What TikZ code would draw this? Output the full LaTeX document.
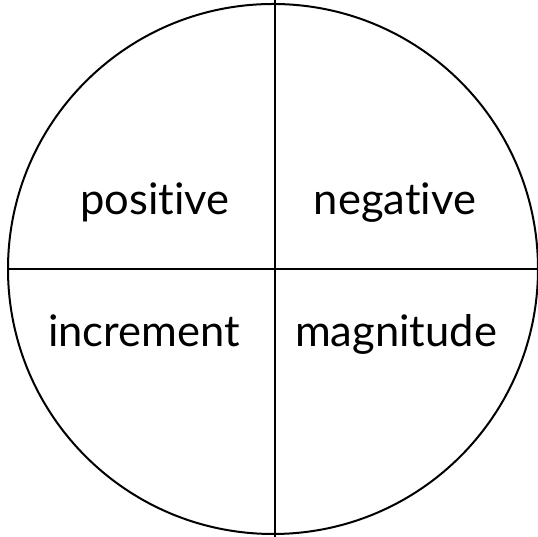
\documentclass[tikz,border=0pt]{standalone}
\usepackage{fontspec}
\setmainfont[Ligatures=NoCommon]{Lato}
\begin{document}
\begin{tikzpicture}[x=1pt, y=1pt,
      every node/.style={font=\fontsize{43.5}{52}\selectfont},
      lbl/.style={anchor=base, inner sep=0pt},
      ln/.style={line width=2pt, black}
    ]
      \useasboundingbox (0,0) rectangle (538,537);
      % outer circle and quarters
      \draw[ln] (273,268) circle (265);
      \coordinate (top) at (275,537);
      \coordinate (bot) at (275,0);
      \coordinate (lft) at (8,268);
      \coordinate (rgt) at (538,268);
      \draw[ln] (top) -- (bot);
      \draw[ln] (lft) -- (rgt);

      % labels
      \node[lbl] (pos) at (155,322) {positive};
      \node[lbl] (neg) at (395,322) {negative};
      \node[lbl] (inc) at (144,190) {increment};
      \node[lbl] (mag) at (396,190) {magnitude};
    \end{tikzpicture}
\end{document}
